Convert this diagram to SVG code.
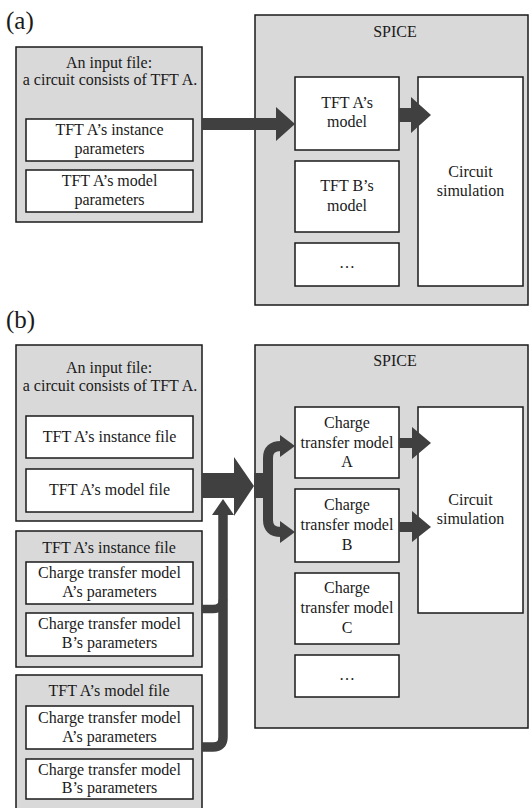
<svg xmlns="http://www.w3.org/2000/svg" width="529" height="808" viewBox="0 0 529 808">
<style>
.bg{fill:#d9d9d9;stroke:#1a1a1a;stroke-width:1.5}
.wb{fill:#ffffff;stroke:#1a1a1a;stroke-width:1.5}
text{font-family:"Liberation Serif","Times New Roman",serif;font-size:16px;fill:#1a1a1a;text-anchor:middle}
.lab{font-size:25px;text-anchor:start}
.ar{fill:#404040;stroke:none}
.cv{fill:none;stroke:#404040;stroke-width:10}
</style>
<rect width="529" height="808" fill="#ffffff"/>
<text class="lab" x="6" y="29">(a)</text>
<text class="lab" x="6" y="328">(b)</text>

<g id="input-a">
<rect class="bg" x="16" y="47" width="186" height="175"/>
<text x="109" y="68">An input file:</text>
<text x="110" y="85">a circuit consists of TFT A.</text>
</g>
<g id="input-a-instance">
<rect class="wb" x="26" y="119" width="167" height="42"/>
<text x="109.5" y="135">TFT A’s instance</text>
<text x="109.5" y="154">parameters</text>
</g>
<g id="input-a-model">
<rect class="wb" x="26" y="170" width="167" height="42"/>
<text x="109.5" y="186">TFT A’s model</text>
<text x="109.5" y="205">parameters</text>
</g>
<g id="spice-a">
<rect class="bg" x="255" y="15" width="273" height="290"/>
<text x="395" y="37">SPICE</text>
</g>
<g id="tftA-model-a">
<rect class="wb" x="295" y="77" width="104" height="73"/>
<text x="347" y="108">TFT A’s</text>
<text x="347" y="127">model</text>
</g>
<g id="tftB-model-a">
<rect class="wb" x="295" y="161" width="104" height="71"/>
<text x="347" y="191">TFT B’s</text>
<text x="347" y="211">model</text>
</g>
<g id="more-a">
<rect class="wb" x="295" y="243" width="104" height="43"/>
<text x="347" y="268">…</text>
</g>
<g id="circuit-sim-a">
<rect class="wb" x="418" y="77" width="105" height="209"/>
<text x="470.5" y="177">Circuit</text>
<text x="470.5" y="196">simulation</text>
</g>

<g id="input-b">
<rect class="bg" x="16" y="345" width="186" height="176"/>
<text x="109" y="373">An input file:</text>
<text x="110" y="391">a circuit consists of TFT A.</text>
</g>
<g id="input-b-instance">
<rect class="wb" x="26" y="416" width="167" height="42"/>
<text x="109.5" y="442">TFT A’s instance file</text>
</g>
<g id="input-b-model">
<rect class="wb" x="26" y="469" width="167" height="43"/>
<text x="109.5" y="495">TFT A’s model file</text>
</g>
<g id="instance-file">
<rect class="bg" x="16" y="531" width="186" height="136"/>
<text x="109" y="553">TFT A’s instance file</text>
</g>
<g id="instance-file-A">
<rect class="wb" x="26" y="562" width="167" height="42"/>
<text x="109.5" y="578">Charge transfer model</text>
<text x="109.5" y="597">A’s parameters</text>
</g>
<g id="instance-file-B">
<rect class="wb" x="26" y="613" width="167" height="43"/>
<text x="109.5" y="629">Charge transfer model</text>
<text x="109.5" y="648">B’s parameters</text>
</g>
<g id="model-file">
<rect class="bg" x="16" y="675" width="186" height="134"/>
<text x="109" y="696">TFT A’s model file</text>
</g>
<g id="model-file-A">
<rect class="wb" x="26" y="706" width="167" height="43"/>
<text x="109.5" y="723">Charge transfer model</text>
<text x="109.5" y="742">A’s parameters</text>
</g>
<g id="model-file-B">
<rect class="wb" x="26" y="759" width="167" height="40"/>
<text x="109.5" y="775">Charge transfer model</text>
<text x="109.5" y="793">B’s parameters</text>
</g>
<g id="spice-b">
<rect class="bg" x="255" y="345" width="273" height="383"/>
<text x="395" y="366">SPICE</text>
</g>
<g id="ct-model-A">
<rect class="wb" x="295" y="407" width="104" height="71"/>
<text x="347" y="428">Charge</text>
<text x="347" y="448">transfer model</text>
<text x="347" y="467">A</text>
</g>
<g id="ct-model-B">
<rect class="wb" x="295" y="489" width="104" height="73"/>
<text x="347" y="510">Charge</text>
<text x="347" y="530">transfer model</text>
<text x="347" y="550">B</text>
</g>
<g id="ct-model-C">
<rect class="wb" x="295" y="573" width="104" height="71"/>
<text x="347" y="593">Charge</text>
<text x="347" y="613">transfer model</text>
<text x="347" y="633">C</text>
</g>
<g id="more-b">
<rect class="wb" x="295" y="655" width="104" height="42"/>
<text x="347" y="680">…</text>
</g>
<g id="circuit-sim-b">
<rect class="wb" x="418" y="407" width="105" height="206"/>
<text x="470.5" y="505">Circuit</text>
<text x="470.5" y="524">simulation</text>
</g>

<g id="connectors">
<polygon class="ar" points="202,118 276,118 276,107 295,124 276,141 276,130 202,130"/>
<polygon class="ar" points="399,108 411,108 411,97 431,115 411,133 411,122 399,122"/>
<polygon class="ar" points="202,473 234,473 234,457 254,486 234,516 234,498 202,498"/>
<rect class="ar" x="254" y="473" width="19" height="25"/>
<path class="cv" d="M268,486 L268,458 Q268,446 281,446"/>
<polygon class="ar" points="280,435 295,446 280,457"/>
<path class="cv" d="M268,486 L268,520 Q268,532 281,532"/>
<polygon class="ar" points="280,521 295,532 280,543"/>
<path class="cv" d="M223,514 L223,737 Q223,747 213,747 L202,747" style="stroke-width:9.5"/>
<path class="cv" d="M202,609 L213,609 Q223,609 223,599" style="stroke-width:8.5"/>
<polygon class="ar" points="212,515 223,499 234,515"/>
<polygon class="ar" points="399,438 412,438 412,427 431,443 412,459 412,448 399,448"/>
<polygon class="ar" points="399,522 412,522 412,511 431,527 412,542 412,532 399,532"/>
</g>
</svg>
